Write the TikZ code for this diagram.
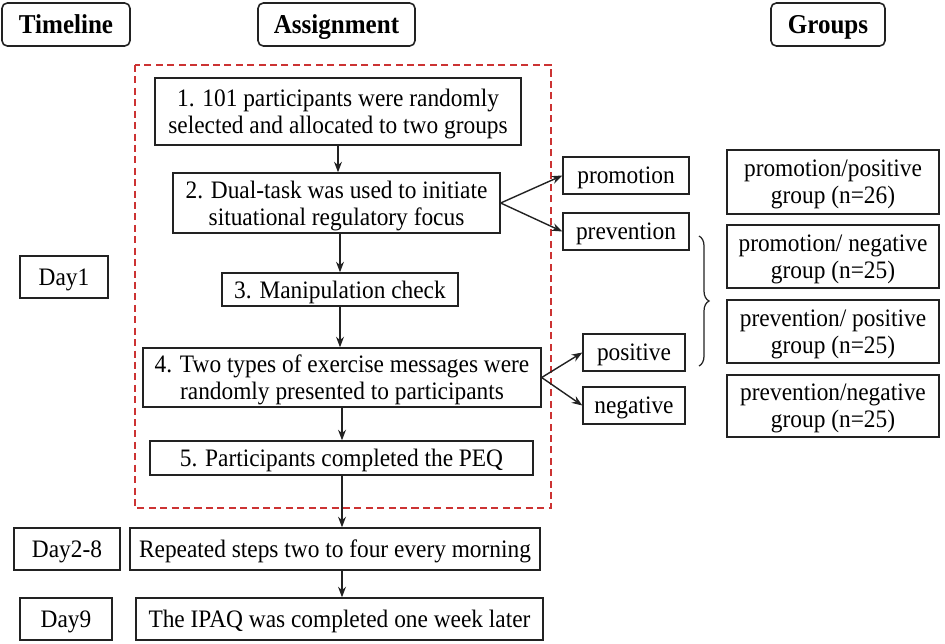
\documentclass[tikz,border=0pt]{standalone}
\usepackage{fontspec}
\setmainfont{Liberation Serif}[FakeStretch=0.93]
\newfontfamily\headfont{Liberation Serif}[FakeStretch=0.92]
\usetikzlibrary{arrows.meta,decorations.pathreplacing}
\definecolor{ln}{HTML}{222222}
\definecolor{rd}{HTML}{CC3333}
\begin{document}
\begin{tikzpicture}[x=0.02cm,y=-0.02cm,
  box/.style={draw=ln, line width=0.8pt, inner sep=0pt, align=center, text depth=0pt,
    font=\fontsize{14.3}{15.5}\selectfont},
  head/.style={draw=ln, line width=0.9pt, rounded corners=3pt, inner sep=0pt, text depth=0pt,
    font=\headfont\fontsize{15.5}{17}\selectfont\bfseries},
  arr/.style={draw=ln, line width=0.8pt, -{Stealth[length=6pt,width=4.5pt]}}]
\useasboundingbox (0,0) rectangle (945,643);
% headers
\node[head, minimum width=2.56cm, minimum height=0.86cm] (tl) at (66,24.5) {Timeline};
\node[head, minimum width=3.14cm, minimum height=0.86cm] (as) at (336.5,24.5) {Assignment};
\node[head, minimum width=2.28cm, minimum height=0.86cm] (gr) at (828,24.5) {Groups};
% red dashed frame
\draw[rd, line width=0.8pt, dash pattern=on 4pt off 2.5pt] (135,65) rectangle (551,508);
% assignment steps
\node[box, minimum width=7.32cm, minimum height=1.34cm] (b1) at (338,111.5) {1. 101 participants were randomly\\selected and allocated to two groups};
\node[box, minimum width=6.54cm, minimum height=1.2cm] (b2) at (336.5,203) {2. Dual-task was used to initiate\\situational regulatory focus};
\node[box, minimum width=4.72cm, minimum height=0.66cm] (b3) at (340,289.5) {3. Manipulation check};
\node[box, minimum width=7.96cm, minimum height=1.18cm] (b4) at (342,377.5) {4. Two types of exercise messages were\\randomly presented to participants};
\node[box, minimum width=7.66cm, minimum height=0.68cm] (b5) at (341.5,458) {5. Participants completed the PEQ};
% timeline
\node[box, minimum width=1.76cm, minimum height=0.84cm] (d1) at (64,277) {Day1};
\node[box, minimum width=2.12cm, minimum height=0.84cm] (d28) at (67,549) {Day2-8};
\node[box, minimum width=1.84cm, minimum height=0.84cm] (d9) at (66,619) {Day9};
\node[box, minimum width=8.2cm, minimum height=0.84cm] (rep) at (335,549) {Repeated steps two to four every morning};
\node[box, minimum width=8.14cm, minimum height=0.84cm] (ipaq) at (339.5,619) {The IPAQ was completed one week later};
% conditions
\node[box, minimum width=2.52cm, minimum height=0.74cm] (prom) at (626,175.5) {promotion};
\node[box, minimum width=2.52cm, minimum height=0.74cm] (prev) at (626,231.5) {prevention};
\node[box, minimum width=2.04cm, minimum height=0.74cm] (pos) at (634,352.5) {positive};
\node[box, minimum width=2.04cm, minimum height=0.74cm] (neg) at (634,405.5) {negative};
% groups
\node[box, minimum width=4.24cm, minimum height=1.28cm] (g1) at (833,182) {promotion/positive\\group (n=26)};
\node[box, minimum width=4.24cm, minimum height=1.26cm] (g2) at (833,256.5) {promotion/ negative\\group (n=25)};
\node[box, minimum width=4.24cm, minimum height=1.26cm] (g3) at (833,331.5) {prevention/ positive\\group (n=25)};
\node[box, minimum width=4.24cm, minimum height=1.24cm] (g4) at (833,406) {prevention/negative\\group (n=25)};
% arrows
\draw[arr] (b1.south) -- (b1.south |- b2.north);
\draw[arr] (b3.north |- b2.south) -- (b3.north);
\draw[arr] (b3.south) -- (b3.south |- b4.north);
\draw[arr] (b4.south) -- (b4.south |- b5.north);
\draw[arr] (b4.south |- b5.south) -- (b4.south |- rep.north);
\draw[arr] (b4.south |- rep.south) -- (b4.south |- ipaq.north);
\draw[arr] (b2.east) -- (prom.west);
\draw[arr] (b2.east) -- (prev.west);
\draw[arr] (b4.east) -- (pos.west);
\draw[arr] (b4.east) -- (neg.west);
% brace
\coordinate (bt) at (699,236);
\coordinate (bb) at (699,366);
\draw[ln, line width=0.7pt, decorate, decoration={brace, amplitude=0.2cm}] (bt) -- (bb);
\end{tikzpicture}
\end{document}
